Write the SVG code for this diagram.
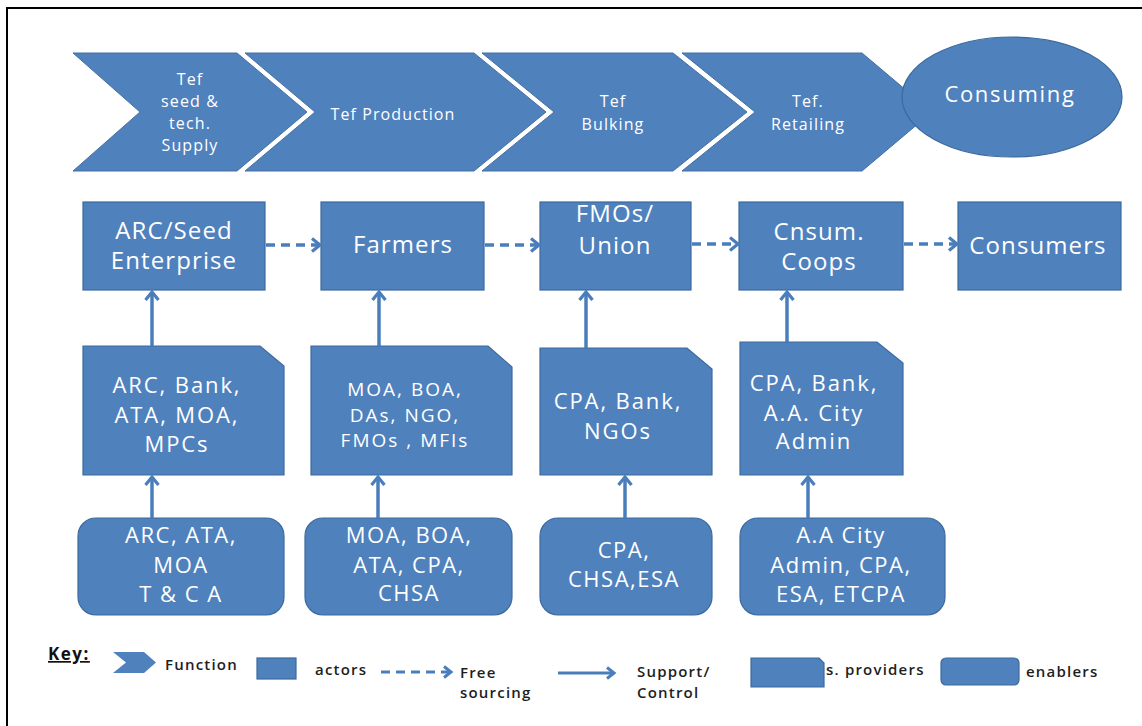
<svg xmlns="http://www.w3.org/2000/svg" width="1142" height="726" viewBox="0 0 1142 726">
<style>
.sh{fill:#4F81BD;stroke:#3C6A9E;stroke-width:1.2}
.chev{fill:#4F81BD;stroke:#446FA3;stroke-width:1}
.t{font-family:"Open Sans","Noto Sans",sans-serif;fill:#FFFFFF;text-anchor:middle}
.fc{font-size:16px;letter-spacing:1.1px}
.f2{font-size:24px;letter-spacing:1.1px}
.f3{font-size:22px;letter-spacing:1.9px}
.f3s{font-size:19px;letter-spacing:2px}
.f4{font-size:22px;letter-spacing:1.5px}
.k{font-family:"Open Sans","Noto Sans",sans-serif;font-size:15px;font-weight:600;fill:#1E1E1E;letter-spacing:1.2px}
.sup{fill:none;stroke:#4A7EBB;stroke-width:3.5}
.free{fill:none;stroke:#4A7EBB;stroke-width:3.5;stroke-dasharray:9 6}
</style>
<defs>
<marker id="ah" markerWidth="16" markerHeight="16" refX="12" refY="8" orient="auto" markerUnits="userSpaceOnUse">
<path d="M4,1.5 L12,8 L4,14.5" fill="none" stroke="#4A7EBB" stroke-width="3.2"/>
</marker>
<marker id="ahk" markerWidth="14" markerHeight="14" refX="11" refY="7" orient="auto" markerUnits="userSpaceOnUse">
<path d="M4,1.5 L11,7 L4,12.5" fill="none" stroke="#4A7EBB" stroke-width="3"/>
</marker>
</defs>
<rect width="1142" height="726" fill="#FFFFFF"/>
<path d="M7,726 V8 H1142" fill="none" stroke="#000000" stroke-width="2"/>

<!-- functions row -->
<g id="f-seed">
<polygon class="chev" points="73,53 237,53 307,112 237,171 73,171 140,112"/>
<text class="t fc"><tspan x="190" y="85">Tef</tspan><tspan x="190" y="107">seed &amp;</tspan><tspan x="190" y="129">tech.</tspan><tspan x="190" y="151">Supply</tspan></text>
</g>
<g id="f-production">
<polygon class="chev" points="245,53 474,53 546,112 474,171 245,171 315,112"/>
<text class="t fc" x="393" y="120">Tef Production</text>
</g>
<g id="f-bulking">
<polygon class="chev" points="482,53 673,53 747,112 673,171 482,171 554,112"/>
<text class="t fc"><tspan x="613" y="107">Tef</tspan><tspan x="613" y="130">Bulking</tspan></text>
</g>
<g id="f-retailing">
<polygon class="chev" points="682,53 862,53 932,112 862,171 682,171 755,112"/>
<text class="t fc"><tspan x="808" y="107">Tef.</tspan><tspan x="808" y="130">Retailing</tspan></text>
</g>
<g id="f-consuming">
<ellipse class="sh" cx="1012" cy="97" rx="110" ry="60"/>
<text class="t" x="1010" y="102" style="font-size:22px;letter-spacing:1.7px">Consuming</text>
</g>

<!-- actors row -->
<g id="a-arc">
<rect class="sh" x="83" y="202" width="182" height="88"/>
<text class="t f2"><tspan x="174" y="239">ARC/Seed</tspan><tspan x="174" y="269">Enterprise</tspan></text>
</g>
<g id="a-farmers">
<rect class="sh" x="321" y="202" width="163" height="88"/>
<text class="t f2" x="403" y="253">Farmers</text>
</g>
<g id="a-fmos">
<rect class="sh" x="540" y="202" width="151" height="88"/>
<text class="t f2"><tspan x="615" y="222">FMOs/</tspan><tspan x="615" y="254">Union</tspan></text>
</g>
<g id="a-coops">
<rect class="sh" x="739" y="202" width="164" height="88"/>
<text class="t f2"><tspan x="819" y="240">Cnsum.</tspan><tspan x="819" y="270">Coops</tspan></text>
</g>
<g id="a-consumers">
<rect class="sh" x="958" y="202" width="163" height="88"/>
<text class="t f2" x="1038" y="254">Consumers</text>
</g>

<!-- service providers row -->
<g id="s-1">
<path class="sh" d="M83,346 H260 L284,366 V475 H83 Z"/>
<text class="t f3"><tspan x="177" y="393">ARC, Bank,</tspan><tspan x="177" y="423">ATA, MOA,</tspan><tspan x="177" y="452">MPCs</tspan></text>
</g>
<g id="s-2">
<path class="sh" d="M311,346 H488 L512,367 V475 H311 Z"/>
<text class="t f3s"><tspan x="405" y="396">MOA, BOA,</tspan><tspan x="405" y="422">DAs, NGO,</tspan><tspan x="405" y="447">FMOs , MFIs</tspan></text>
</g>
<g id="s-3">
<path class="sh" d="M540,348 H687 L712,369 V475 H540 Z"/>
<text class="t f3"><tspan x="618" y="409">CPA, Bank,</tspan><tspan x="618" y="439">NGOs</tspan></text>
</g>
<g id="s-4">
<path class="sh" d="M740,342 H877 L903,363 V475 H740 Z"/>
<text class="t f3"><tspan x="814" y="391">CPA, Bank,</tspan><tspan x="814" y="421">A.A. City</tspan><tspan x="814" y="449">Admin</tspan></text>
</g>

<!-- enablers row -->
<g id="e-1">
<rect class="sh" x="78" y="518" width="206" height="97" rx="18" ry="18"/>
<text class="t f4"><tspan x="181" y="543">ARC, ATA,</tspan><tspan x="181" y="573">MOA</tspan><tspan x="181" y="602">T &amp; C A</tspan></text>
</g>
<g id="e-2">
<rect class="sh" x="305" y="518" width="207" height="97" rx="18" ry="18"/>
<text class="t f4"><tspan x="409" y="543">MOA, BOA,</tspan><tspan x="409" y="573">ATA, CPA,</tspan><tspan x="409" y="601">CHSA</tspan></text>
</g>
<g id="e-3">
<rect class="sh" x="540" y="518" width="172" height="97" rx="18" ry="18"/>
<text class="t f4"><tspan x="624" y="558">CPA,</tspan><tspan x="624" y="587">CHSA,ESA</tspan></text>
</g>
<g id="e-4">
<rect class="sh" x="740" y="518" width="205" height="97" rx="18" ry="18"/>
<text class="t f4"><tspan x="841" y="543">A.A City</tspan><tspan x="841" y="573">Admin, CPA,</tspan><tspan x="841" y="602">ESA, ETCPA</tspan></text>
</g>

<!-- connectors -->
<g id="connectors">
<line class="free" x1="266" y1="245" x2="320" y2="245" marker-end="url(#ah)"/>
<line class="free" x1="485" y1="245" x2="539" y2="245" marker-end="url(#ah)"/>
<line class="free" x1="692" y1="244" x2="738" y2="244" marker-end="url(#ah)"/>
<line class="free" x1="904" y1="244" x2="957" y2="244" marker-end="url(#ah)"/>
<line class="sup" x1="152" y1="346" x2="152" y2="292" marker-end="url(#ah)"/>
<line class="sup" x1="379" y1="346" x2="379" y2="292" marker-end="url(#ah)"/>
<line class="sup" x1="586" y1="348" x2="586" y2="292" marker-end="url(#ah)"/>
<line class="sup" x1="787" y1="342" x2="787" y2="292" marker-end="url(#ah)"/>
<line class="sup" x1="152" y1="518" x2="152" y2="477" marker-end="url(#ah)"/>
<line class="sup" x1="378" y1="518" x2="378" y2="477" marker-end="url(#ah)"/>
<line class="sup" x1="625" y1="518" x2="625" y2="477" marker-end="url(#ah)"/>
<line class="sup" x1="808" y1="518" x2="808" y2="477" marker-end="url(#ah)"/>
</g>

<!-- key -->
<g id="key">
<text x="48" y="660" style="font-family:'Open Sans','Noto Sans',sans-serif;font-size:17px;font-weight:700;fill:#111;letter-spacing:1.5px;text-decoration:underline">Key:</text>
<polygon points="113,652 144,652 156,662.5 144,673 113,673 126,662.5" fill="#4F81BD"/>
<text class="k" x="165" y="670">Function</text>
<rect class="sh" x="257" y="658" width="39" height="21"/>
<text class="k" x="315" y="675">actors</text>
<line class="free" x1="381" y1="672" x2="451" y2="672" style="stroke-width:3" marker-end="url(#ahk)"/>
<text class="k" x="460" y="678">Free</text>
<text class="k" x="460" y="698">sourcing</text>
<line class="sup" x1="558" y1="673" x2="614" y2="673" style="stroke-width:3" marker-end="url(#ahk)"/>
<text class="k" x="637" y="677">Support/</text>
<text class="k" x="637" y="698">Control</text>
<path class="sh" d="M751,658 H819 L824,663 V687 H751 Z"/>
<text class="k" x="826" y="675">s. providers</text>
<rect class="sh" x="941" y="658" width="78" height="27" rx="5" ry="5"/>
<text class="k" x="1026" y="677">enablers</text>
</g>
</svg>
